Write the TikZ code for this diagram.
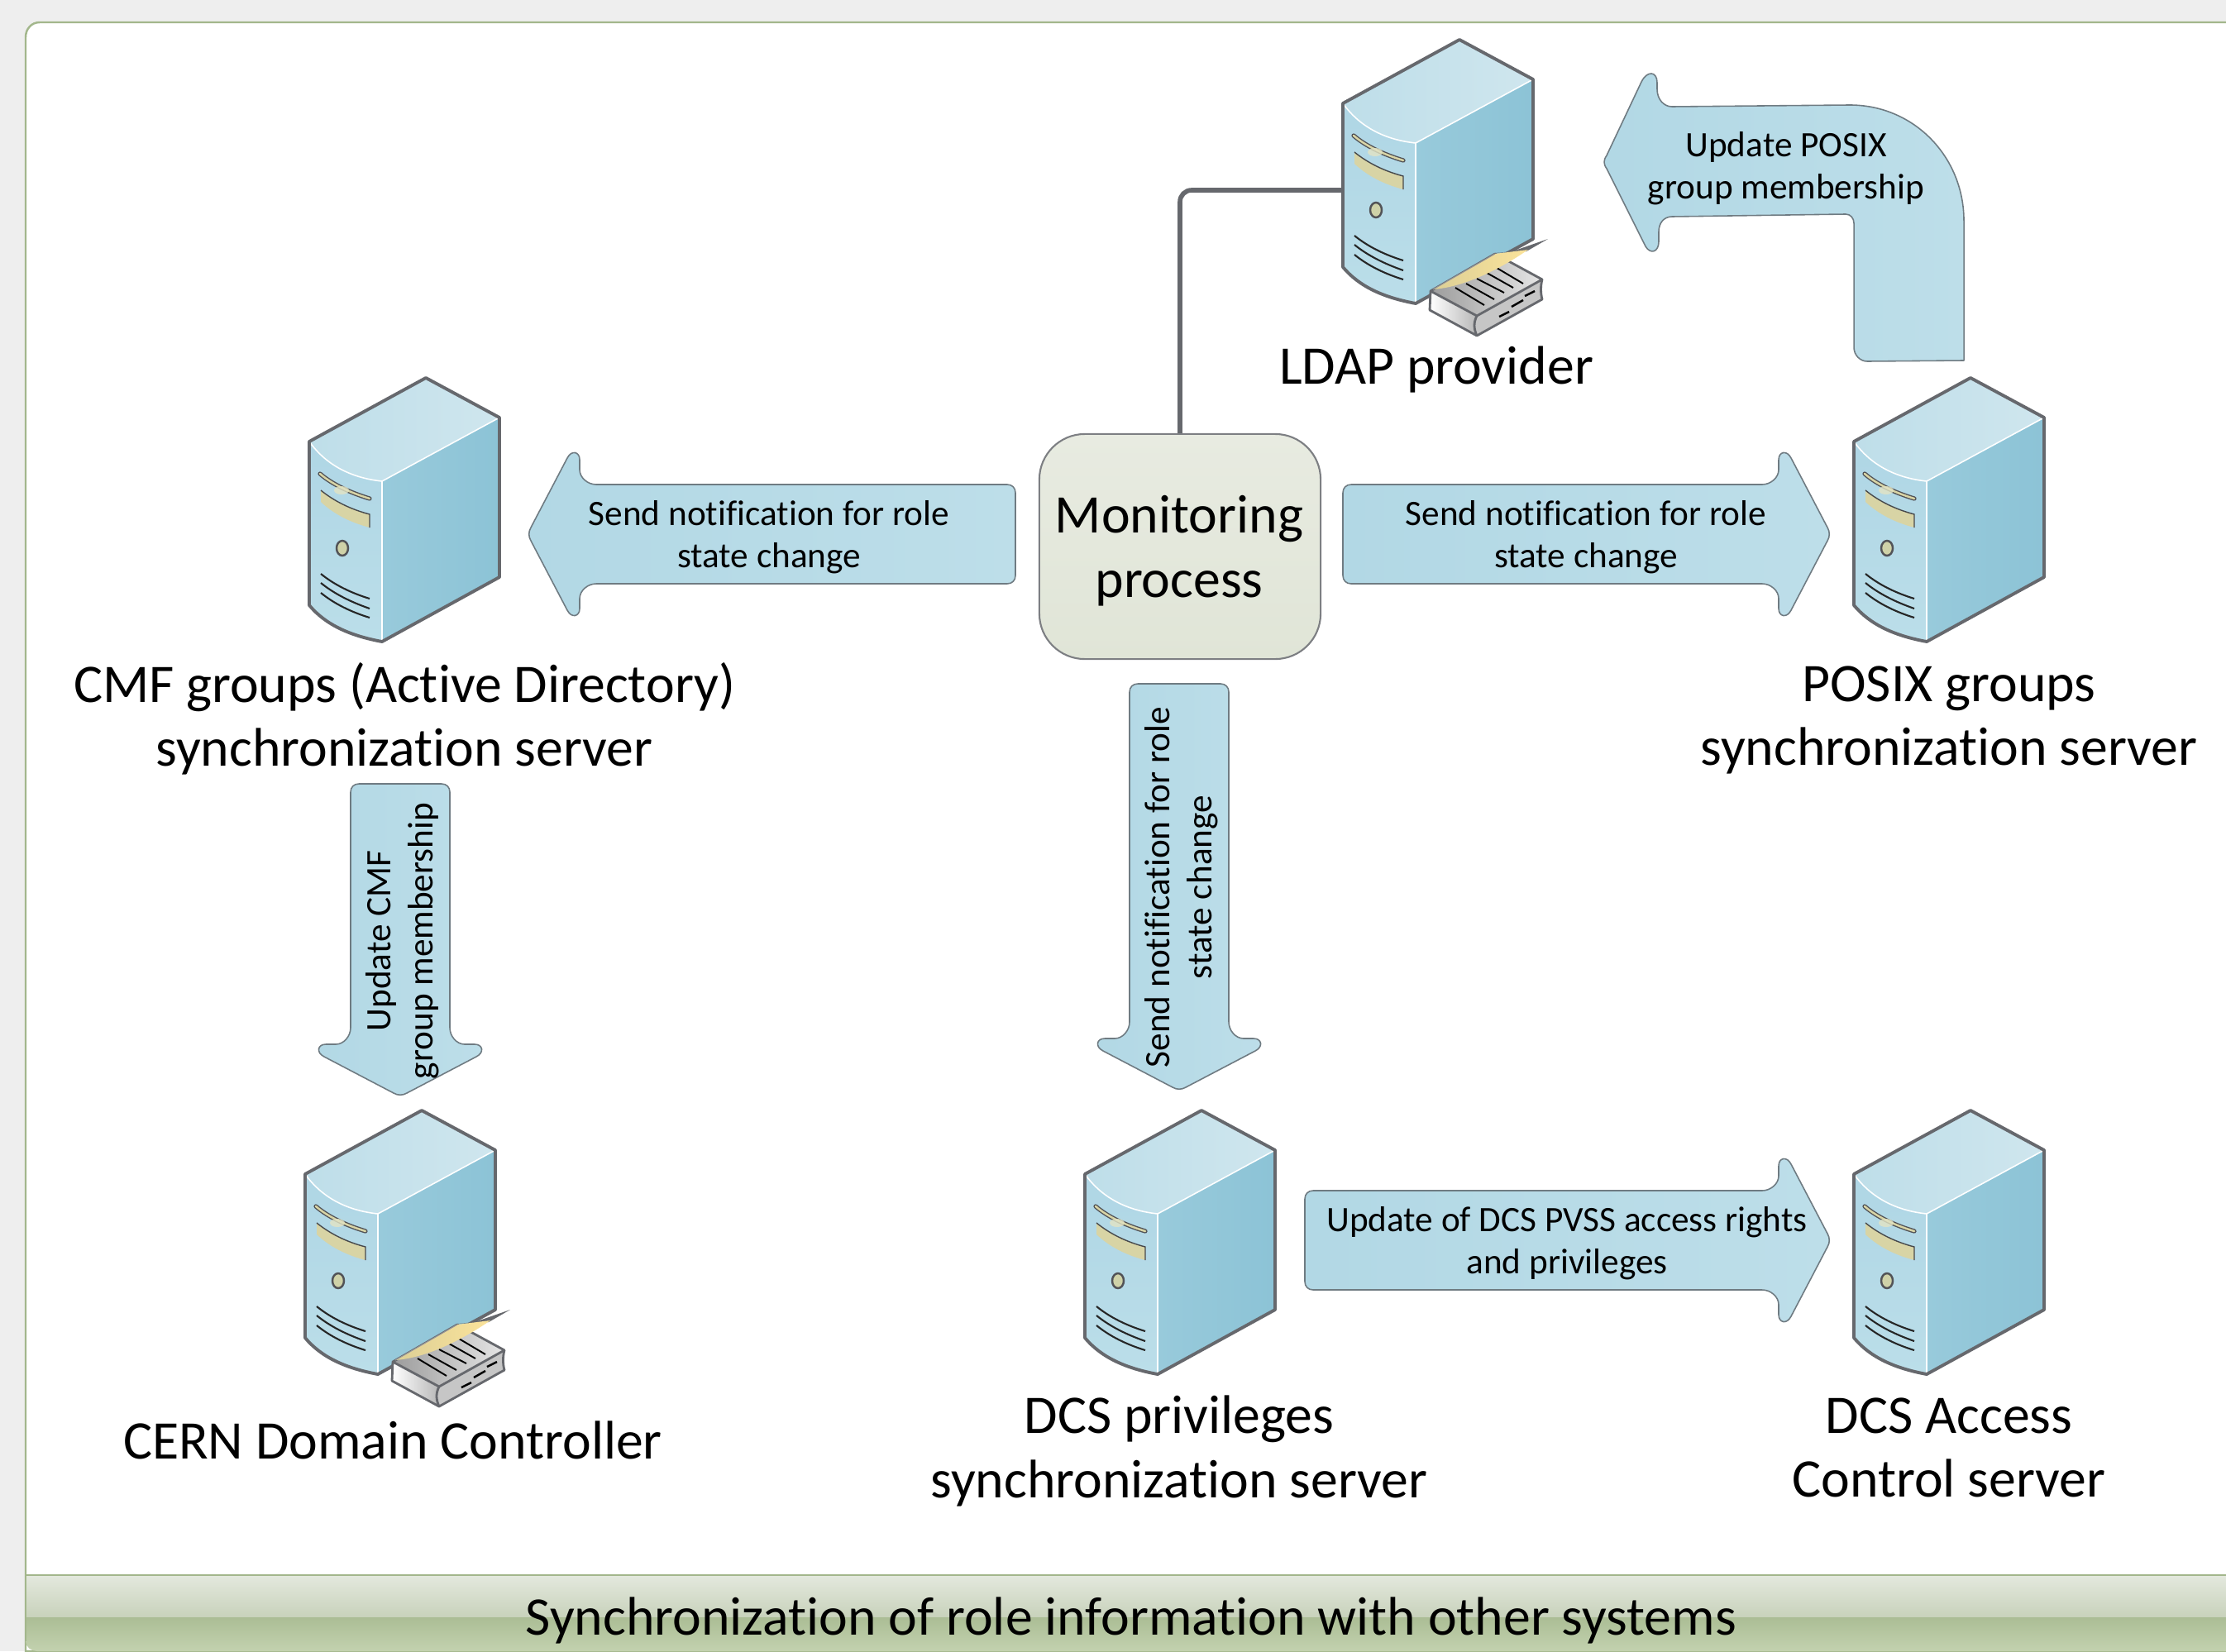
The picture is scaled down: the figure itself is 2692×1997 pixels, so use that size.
\documentclass[tikz,border=0pt]{standalone}
\usepackage{fontspec}
\setmainfont[Ligatures=NoCommon]{Carlito}
\definecolor{edgegray}{HTML}{66686D}
\definecolor{panelgreen}{HTML}{A3B78C}
\definecolor{arrowedge}{HTML}{6F7B82}
\definecolor{topA}{HTML}{BEDEE9}
\definecolor{topB}{HTML}{CFE6EE}
\definecolor{sideA}{HTML}{98CADB}
\definecolor{sideB}{HTML}{8CC3D6}
\definecolor{frontA}{HTML}{AFD6E5}
\definecolor{frontB}{HTML}{BBDEE9}
\definecolor{tan}{HTML}{D8D4A5}
\definecolor{tanlight}{HTML}{E3E4C4}
\definecolor{tanbtn}{HTML}{CFD2A8}
\definecolor{bookdark}{HTML}{9C9C9C}
\definecolor{booklight}{HTML}{E6E6E6}
\definecolor{bookmid}{HTML}{C6C6C6}
\definecolor{bookleft}{HTML}{B8B8B8}
\definecolor{flapA}{HTML}{DCCF96}
\definecolor{flapB}{HTML}{FBE39A}
\definecolor{arrA}{HTML}{B2D8E5}
\definecolor{arrB}{HTML}{BDDEE9}
\definecolor{pagegray}{HTML}{EEEEEE}
\definecolor{footA}{HTML}{E3E8DD}
\definecolor{footB}{HTML}{C8D2BB}
\definecolor{footC}{HTML}{ABBD95}
\definecolor{footD}{HTML}{C3D2AF}
\definecolor{monA}{HTML}{E8EBE1}
\definecolor{monB}{HTML}{E0E5D7}
\tikzset{
  biglabel/.style={font=\fontsize{18.7}{22}\selectfont,align=center,text=black,inner sep=0pt},
  smalllabel/.style={font=\fontsize{12.3}{14.6}\selectfont,align=center,text=black,inner sep=0pt},
  outline/.style={draw=edgegray,line width=1.1pt,line join=round},
  glint/.style={draw=white,line width=0.45pt},
  vent/.style={draw=black!85,line width=0.6pt},
  pics/server/.style={code={
    % top face
    \shade[left color=topA,right color=topB] (0,0) -- (141,-77) -- (230,-29) -- (88,48) .. controls (50,44) and (20,28) .. (0,0) -- cycle;
    % side face
    \shade[left color=sideA,right color=sideB] (88,48) -- (230,-29) -- (230,164) -- (88,242) -- cycle;
    % front face
    \shade[top color=frontA,bottom color=frontB] (0,0) .. controls (20,28) and (50,44) .. (88,48) -- (88,242) .. controls (50,235) and (20,222) .. (0,198) -- cycle;
    \draw[glint] (0,0) .. controls (20,28) and (50,44) .. (88,48) -- (230,-29);
    \draw[glint] (88,48) -- (88,242);
    \draw[outline] (0,0) -- (141,-77) -- (230,-29) -- (230,164) -- (88,242) .. controls (50,235) and (20,222) .. (0,198) -- cycle;
    % slot
    \draw[edgegray!80!black,line width=1.5pt,line cap=round] (13,39) .. controls (28,52) and (50,62) .. (73,69);
    \draw[tan,line width=0.7pt,line cap=round] (13,39) .. controls (28,52) and (50,62) .. (73,69);
    \fill[tanlight,opacity=.8] (39,59) ellipse (9 and 5);
    % bay
    \fill[tan] (14,59) .. controls (30,72) and (50,82) .. (73,88) -- (73,104) .. controls (50,98) and (30,88) .. (14,73) -- cycle;
    \draw[edgegray!70!black,line width=0.4pt] (14,59) .. controls (30,72) and (50,82) .. (73,88) -- (73,104);
    % button
    \draw[edgegray!80!black,fill=tanbtn,line width=.7pt] (40,129) ellipse (7 and 9);
    % vents
    \draw[vent] (14,160) .. controls (30,173) and (50,183) .. (73,190);
    \draw[vent] (14,171) .. controls (30,184) and (50,194) .. (73,202);
    \draw[vent] (14,183) .. controls (30,196) and (50,206) .. (73,213);
  }},
  pics/dirbook/.style={code={
    % left face
    \shade[left color=white,right color=bookleft] (106,227) -- (162,257) .. controls (158,265) and (158,272) .. (162,281) -- (105,250) -- cycle;
    % right face
    \fill[bookmid] (162,257) -- (241,213) .. controls (239,220) and (239,230) .. (241,237) -- (162,281) .. controls (158,272) and (158,265) .. (162,257) -- cycle;
    % top face
    \shade[left color=bookdark,right color=booklight] (106,227) -- (184,182) -- (241,213) -- (162,257) -- cycle;
    \draw[outline,line width=.8pt] (106,227) -- (184,182) -- (241,213) .. controls (239,220) and (239,230) .. (241,237) -- (162,281) -- (105,250) -- cycle;
    \draw[outline,line width=.8pt] (106,227) -- (162,257) -- (241,213);
    \draw[outline,line width=.8pt] (162,257) .. controls (158,265) and (158,272) .. (162,281);
    \foreach \ax/\ay/\bx/\by in {136/223/171/244,149/218/183/237,162/212/195/229,174/205/206/223,186/199/218/218}
      \draw[black,line width=.55pt] (\ax,\ay) -- (\bx,\by);
    \foreach \ax/\ay/\bx/\by in {189/258/201/252,204/246/218/238,220/233/232/227}
      \draw[black,line width=.7pt] (\ax,\ay) -- (\bx,\by);
    % gray wedge
    \fill[edgegray] (184,181) -- (205,179) -- (248,164) -- (222,179) -- cycle;
    % flap
    \shade[left color=flapA,right color=flapB] (109,225) -- (184,182) -- (224,177) .. controls (195,197) and (150,222) .. (109,225) -- cycle;
    \draw[edgegray!70,line width=.3pt] (109,225) -- (184,182);
  }},
  pics/blockarrow/.style={code={
    \def\len{#1}
    \shade[left color=arrA,right color=arrB,draw=arrowedge,line width=.45pt,line join=round]
      (0,-50) .. controls (0,-56) and (4,-60) .. (10,-60)
      -- ({\len-82},-60) .. controls ({\len-72},-60) and ({\len-62},-68) .. ({\len-62},-78)
      -- ({\len-62},-90) .. controls ({\len-62},-100) and ({\len-52},-102) .. ({\len-47},-92)
      -- ({\len-3},-8) .. controls ({\len},-3) and ({\len},3) .. ({\len-3},8)
      -- ({\len-47},92) .. controls ({\len-52},102) and ({\len-62},100) .. ({\len-62},90)
      -- ({\len-62},78) .. controls ({\len-62},68) and ({\len-72},60) .. ({\len-82},60)
      -- (10,60) .. controls (4,60) and (0,56) .. (0,50) -- cycle;
  }}
}
\begin{document}
\begin{tikzpicture}[x=0.01cm,y=-0.01cm]
\useasboundingbox (0,0) rectangle (2692,1997);
% page and panel
\fill[pagegray] (0,0) rectangle (2692,1997);
\fill[white,draw=panelgreen,line width=.7pt] (31,1997) -- (31,45) .. controls (31,35) and (38,27) .. (48,27) -- (2700,27) -- (2700,1997) -- cycle;
\shade[top color=footA,bottom color=footB,draw=none] (31,1906) rectangle (2692,1956);
\shade[top color=footC,bottom color=footD,draw=none] (31,1956) -- (2692,1956) -- (2692,1997) -- (45,1997) .. controls (38,1997) and (31,1992) .. (31,1985) -- cycle;
\draw[panelgreen,line width=.8pt] (31,1905) -- (2692,1905);
\draw[panelgreen,line width=.7pt] (31,1905) -- (31,1985);
% servers
\pic (srvLdap) at (1624,125) {server};
\pic (srvCmf) at (374,534) {server};
\pic (srvPosix) at (2242,534) {server};
\pic (srvCern) at (369,1420) {server};
\pic (srvDcs) at (1312,1420) {server};
\pic (srvAcc) at (2242,1420) {server};
\pic (bookLdap) at (1624,125) {dirbook};
\pic (bookCern) at (369,1420) {dirbook};
% monitoring box
\node[draw=edgegray!85,line width=.6pt,top color=monA,bottom color=monB,rounded corners=0.55cm,minimum width=3.4cm,minimum height=2.72cm,biglabel] (mon) at (1427,661) {};
\node[biglabel] (tMon) at (1426,666) {Monitoring\\process};
\coordinate (ldapw) at (1624,230);
\draw[edgegray,line width=1.6pt,rounded corners=0.14cm] (mon.north) |- (ldapw);
% arrows
\pic at (1228,646) [rotate=180] {blockarrow=589};
\pic at (1624,646) {blockarrow=589};
\pic at (1426,827) [rotate=-90] {blockarrow=491};
\pic at (484,948) [rotate=-90] {blockarrow=377};
\pic at (1578,1500) {blockarrow=635};
% bent arrow
\shade[left color=arrA,right color=arrB,draw=arrowedge,line width=.45pt,line join=round]
  (1943,188) -- (1985,99) .. controls (1992,85) and (2004,86) .. (2004,100) -- (2004,108) .. controls (2004,120) and (2012,129) .. (2022,129)
  -- (2237,127) .. controls (2315,127) and (2375,190) .. (2375,267) -- (2375,436) -- (2258,437) .. controls (2250,437) and (2242,430) .. (2242,420)
  -- (2242,270) .. controls (2242,264) and (2238,259) .. (2232,259) -- (2022,262) .. controls (2012,262) and (2006,270) .. (2006,280)
  -- (2006,292) .. controls (2006,305) and (1996,308) .. (1990,298) -- (1943,204) .. controls (1939,198) and (1939,194) .. (1943,188) -- cycle;
% arrow labels
\node[smalllabel] (tCmfNote) at (930,650) {Send notification for role\\state change};
\node[smalllabel] (tPosixNote) at (1918,650) {Send notification for role\\state change};
\node[smalllabel] (tPosixUp) at (2160,204) {Update POSIX\\group membership};
\node[smalllabel] (tDcsUp) at (1895,1504) {Update of DCS PVSS access rights\\and privileges};
\node[smalllabel,rotate=90] (tDcsNote) at (1429,1073) {Send notification for role\\state change};
\node[smalllabel,rotate=90] (tCmfUp) at (487,1138) {Update CMF\\group membership};
% server labels
\node[biglabel] (lLdap) at (1737,447) {LDAP provider};
\node[biglabel] (lCmf) at (489,869) {CMF groups (Active Directory)\\synchronization server};
\node[biglabel] (lPosix) at (2357,871) {POSIX groups\\synchronization server};
\node[biglabel] (lCern) at (475,1742) {CERN Domain Controller};
\node[biglabel] (lDcs) at (1426,1755) {DCS privileges\\synchronization server};
\node[biglabel] (lAcc) at (2357,1751) {DCS Access\\Control server};
\node[biglabel] (lFoot) at (1368,1960) {Synchronization of role information with other systems};
\end{tikzpicture}
\end{document}
